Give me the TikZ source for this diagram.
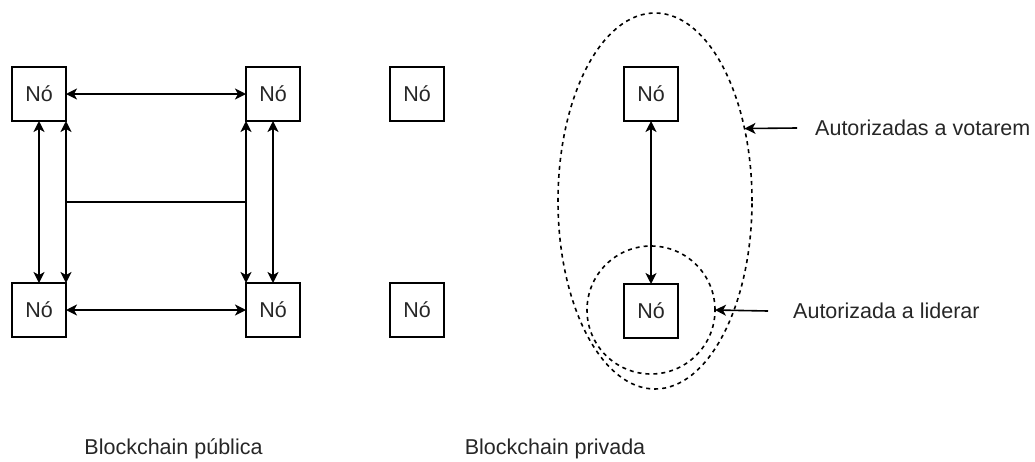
\documentclass[tikz,border=0pt]{standalone}
\usepackage{fontspec}
\setmainfont{Liberation Sans}
\usetikzlibrary{arrows.meta,calc,shapes.geometric}
\begin{document}
\begin{tikzpicture}[x=1pt,y=-1pt,
  every node/.style={font=\fontsize{21.5}{25}\selectfont, text=black!85},
  nodebox/.style={draw, line width=1.6pt, minimum size=54pt, inner sep=0pt, outer sep=0pt},
  link/.style={line width=1.6pt, {Stealth[length=11pt,width=11pt,inset=3pt]}-{Stealth[length=11pt,width=11pt,inset=3pt]}},
  pointer/.style={line width=1.6pt, -{Stealth[length=11pt,width=11pt,inset=3pt]}},
  group/.style={draw, dash pattern=on 4pt off 4pt, line width=1.6pt, inner sep=0pt, outer sep=0pt},
  caption/.style={inner sep=0pt}]
\useasboundingbox (0,0) rectangle (1035,461);

% public blockchain: four linked nodes
\node[nodebox] (a) at (39,94) {Nó};
\node[nodebox] (b) at (273,94) {Nó};
\node[nodebox] (c) at (39,310) {Nó};
\node[nodebox] (d) at (273,310) {Nó};

\draw[link] (a.east) -- (b.west);
\draw[link] (c.east) -- (d.west);
\draw[link] (a.south) -- (c.north);
\draw[link] (a.south east) -- (c.north east);
\draw[link] (b.south west) -- (d.north west);
\draw[link] (b.south) -- (d.north);
\draw[line width=1.6pt] ($(a.south east)!0.5!(c.north east)$) -- ($(b.south west)!0.5!(d.north west)$);

% standalone nodes
\node[nodebox] (m1) at (417,94) {Nó};
\node[nodebox] (m2) at (417,310) {Nó};

% private blockchain
\node[nodebox] (p1) at (651,94) {Nó};
\node[nodebox] (p2) at (651,311) {Nó};
\draw[link] (p1.south) -- (p2.north);

\node[group, ellipse, minimum width=194pt, minimum height=376pt] (voters) at (655,201) {};
\node[group, circle, minimum size=128pt] (leader) at (651,310) {};

\node[caption, anchor=west] (lv) at (815,128) {Autorizadas a votarem};
\node[caption, anchor=west] (ll) at (793,311) {Autorizada a liderar};
\draw[pointer] ([xshift=-18pt]lv.west) -- (voters.39.4);
\draw[pointer] ([xshift=-25pt]ll.west) -- (leader.east);

% captions below
\node[caption] (pub) at (173.5,449) {Blockchain pública};
\node[caption] (priv) at (555,449) {Blockchain privada};
\end{tikzpicture}
\end{document}
